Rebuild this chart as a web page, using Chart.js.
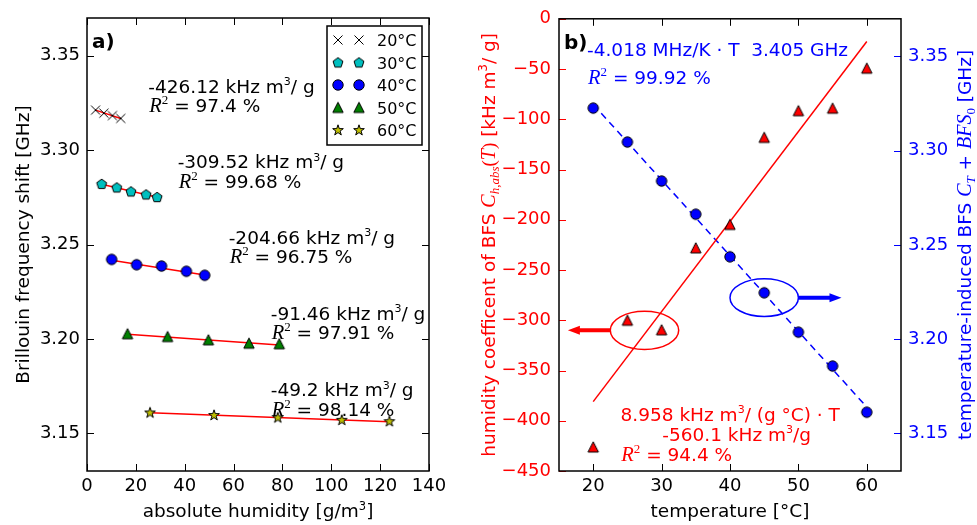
<!DOCTYPE html>
<html><head><meta charset="utf-8">
<script src="https://cdn.jsdelivr.net/npm/chart.js@4.4.1/dist/chart.umd.min.js"></script>
<style>
html,body{margin:0;padding:0;background:#fff;width:977px;height:525px;overflow:hidden}
canvas{position:absolute;top:0}
#c1{left:0;width:470px;height:525px}
#c2{left:470px;width:507px;height:525px}
</style></head><body>
<canvas id="c1" width="470" height="525"></canvas>
<canvas id="c2" width="507" height="525"></canvas>
<script>
// ---------------- data: panel a) ----------------
const legendLabels = ['20°C', '30°C', '40°C', '50°C', '60°C'];
const humid20 = [3.5, 6.9, 10.4, 13.8];
const bfs20   = [3.3212, 3.3196, 3.3183, 3.3168];
const humid30 = [6.0, 12.2, 18.0, 24.2, 28.7];
const bfs30   = [3.2821, 3.2802, 3.2781, 3.2765, 3.2751];
const humid40 = [10.1, 20.3, 30.5, 40.7, 48.2];
const bfs40   = [3.2421, 3.2393, 3.2386, 3.2358, 3.2337];
const humid50 = [16.6, 33.0, 49.7, 66.3, 78.7];
const bfs50   = [3.2027, 3.2012, 3.1995, 3.1977, 3.1974];
const humid60 = [25.8, 52.0, 78.1, 104.3, 123.8];
const bfs60   = [3.1610, 3.1597, 3.1584, 3.1571, 3.1564];
const fitHumid = [[3.5, 13.8], [6.0, 28.7], [10.1, 48.2], [16.6, 78.7], [25.8, 123.8]];
const fitBfs   = [[3.3212, 3.3168], [3.2819, 3.2750], [3.2417, 3.2339], [3.2025, 3.1968], [3.1609, 3.1561]];
const slopeTexts = ['-426.12', '-309.52', '-204.66', '-91.46', '-49.2'];
const r2Texts    = ['97.4', '99.68', '96.75', '97.91', '98.14'];
const slopeTextHumid = [25.1, 37.1, 58.0, 75.2, 75.2];
const slopeTextBfs   = [3.3303, 3.2905, 3.2505, 3.2102, 3.1696];
const humidTicks = [0, 20, 40, 60, 80, 100, 120, 140];
const bfsTicks   = [3.15, 3.20, 3.25, 3.30, 3.35];

// ---------------- data: panel b) ----------------
const temps      = [20, 25, 30, 35, 40, 45, 50, 55, 60];
const humidCoeff = [-426.12, -300, -309.52, -228, -204.66, -118, -91.46, -89, -49.2];
const bfsTemp    = [3.3226, 3.3046, 3.2839, 3.2663, 3.2437, 3.2246, 3.2037, 3.1857, 3.1612];
const coeffFitT  = [20, 60];
const coeffFit   = [-381, -22.6];
const bfsFitT    = [20, 60];
const bfsFit     = [3.3246, 3.1639];
const tempTicks  = [20, 30, 40, 50, 60];
const coeffTicks = [0, -50, -100, -150, -200, -250, -300, -350, -400, -450];
const bfsTicksR  = [3.15, 3.20, 3.25, 3.30, 3.35];

// annotation anchors (data coordinates)
const redEllipse  = {x: 27.5, y: -310, w: 10, h: 38, tipX: 16.3};
const blueEllipse = {x: 45, y: 3.222, w: 10, h: 0.02, tipX: 56.3};
const blueText = {x: 19.1, y1: 3.3501, y2: 3.3356};
const redTextX = [24.0, 30.1, 24.1];
const redTextY = [-400, -420, -440];

// ---------------- helpers ----------------
const DJ = '"DejaVu Sans"';
const TS = 18.5; // title size
const N = (t, s = 18.5) => ({t, f: `${s}px ${DJ}`, dy: 0});
const I = (t, s = 20) => ({t, f: `italic ${s}px "Liberation Serif"`, dy: 0});
const S = (t, s = 19) => ({t, f: `${s}px "Liberation Serif"`, dy: 0});
const SUP = (t, s = 11, dy = -7.5) => ({t, f: `${s}px ${DJ}`, dy});
const ISUB = (t, s = 13, dy = 4) => ({t, f: `italic ${s}px "Liberation Serif"`, dy});
const R2 = (v, s = 18.5) => [I('R', 20.5), {t: '2', f: '13px "Liberation Serif"', dy: -8}, N(' = ' + v + ' %', s)];

function drawRich(ctx, segs, x, y, align, color) {
  let w = 0;
  for (const s of segs) { ctx.font = s.f; w += ctx.measureText(s.t).width; }
  let cx = align === 'center' ? x - w / 2 : (align === 'right' ? x - w : x);
  ctx.textAlign = 'left'; ctx.textBaseline = 'alphabetic'; ctx.fillStyle = color;
  for (const s of segs) { ctx.font = s.f; ctx.fillText(s.t, cx, y + s.dy); cx += ctx.measureText(s.t).width; }
}
function drawRichRot(ctx, segs, cx, cy, color, size) {
  ctx.save(); ctx.translate(cx, cy); ctx.rotate(-Math.PI / 2);
  drawRich(ctx, segs, 0, 0.36 * size, 'center', color);
  ctx.restore();
}

function makeMarker(kind, fill) {
  const c = document.createElement('canvas'); c.width = 16; c.height = 16;
  const g = c.getContext('2d'); g.translate(8, 8);
  g.lineWidth = 1; g.strokeStyle = '#000'; g.fillStyle = fill;
  g.beginPath();
  if (kind === 'cross') {
    const r = 4.5; g.moveTo(-r, -r); g.lineTo(r, r); g.moveTo(-r, r); g.lineTo(r, -r); g.stroke(); return c;
  }
  if (kind === 'circle') { g.arc(0, 0, 5.2, 0, Math.PI * 2); }
  if (kind === 'triangle') { g.moveTo(0, -5.2); g.lineTo(5.2, 5.0); g.lineTo(-5.2, 5.0); }
  if (kind === 'pentagon') {
    for (let i = 0; i < 5; i++) { const a = -Math.PI / 2 + i * 2 * Math.PI / 5; const x = 5.2 * Math.cos(a), y = 5.2 * Math.sin(a) + 0.4; i ? g.lineTo(x, y) : g.moveTo(x, y); }
  }
  if (kind === 'star') {
    for (let i = 0; i < 10; i++) { const a = -Math.PI / 2 + i * Math.PI / 5; const r = i % 2 ? 2.2 : 5.6; const x = r * Math.cos(a), y = r * Math.sin(a) + 0.4; i ? g.lineTo(x, y) : g.moveTo(x, y); }
  }
  g.closePath(); g.fill(); g.stroke();
  return c;
}
const mk = {
  cross: makeMarker('cross', '#000'),
  pent: makeMarker('pentagon', '#00BFBF'),
  circ: makeMarker('circle', '#0000FF'),
  triG: makeMarker('triangle', '#008000'),
  star: makeMarker('star', '#BFBF00'),
  triR: makeMarker('triangle', '#FF0000')
};

const pts = (xs, ys) => xs.map((x, i) => ({x, y: ys[i]}));
const tickFont = {family: 'DejaVu Sans', size: 18};

function drawFrameTicks(chart, specs) {
  const ctx = chart.ctx, a = chart.chartArea, L = 7;
  ctx.save(); ctx.lineWidth = 1;
  for (const sp of specs) {
    const sc = chart.scales[sp.scale];
    ctx.strokeStyle = sp.color;
    for (const v of sp.values) {
      const p = Math.round(sc.getPixelForValue(v)) + 0.5;
      ctx.beginPath();
      for (const side of sp.sides) {
        if (side === 'bottom') { ctx.moveTo(p, a.bottom); ctx.lineTo(p, a.bottom - L); }
        if (side === 'top') { ctx.moveTo(p, a.top); ctx.lineTo(p, a.top + L); }
        if (side === 'left') { ctx.moveTo(a.left, p); ctx.lineTo(a.left + L, p); }
        if (side === 'right') { ctx.moveTo(a.right, p); ctx.lineTo(a.right - L, p); }
      }
      ctx.stroke();
    }
  }
  ctx.strokeStyle = '#000'; ctx.lineWidth = 1.5;
  ctx.strokeRect(a.left, a.top, a.right - a.left, a.bottom - a.top);
  ctx.restore();
}

// ---------------- chart a) ----------------
const setsA = [
  {label: legendLabels[0], data: pts(humid20, bfs20), pointStyle: mk.cross},
  {label: legendLabels[1], data: pts(humid30, bfs30), pointStyle: mk.pent},
  {label: legendLabels[2], data: pts(humid40, bfs40), pointStyle: mk.circ},
  {label: legendLabels[3], data: pts(humid50, bfs50), pointStyle: mk.triG},
  {label: legendLabels[4], data: pts(humid60, bfs60), pointStyle: mk.star}
].map(d => Object.assign(d, {showLine: false, order: 0, pointRadius: 5}));
const fitsA = fitHumid.map((h, i) => ({
  label: 'fit ' + legendLabels[i], data: pts(h, fitBfs[i]), showLine: true, pointRadius: 0,
  borderColor: '#FF0000', borderWidth: 1.5, order: 1
}));

const pluginA = {
  id: 'panelA',
  beforeDatasetsDraw(chart) {
    drawFrameTicks(chart, [
      {scale: 'x', values: humidTicks, sides: ['bottom', 'top'], color: '#000'},
      {scale: 'y', values: bfsTicks, sides: ['left', 'right'], color: '#000'}
    ]);
  },
  afterDatasetsDraw(chart) {
    const ctx = chart.ctx, a = chart.chartArea, xs = chart.scales.x, ys = chart.scales.y;
    ctx.save();
    for (let i = 0; i < slopeTexts.length; i++) {
      const px = xs.getPixelForValue(slopeTextHumid[i]), py = ys.getPixelForValue(slopeTextBfs[i]);
      drawRich(ctx, [N(slopeTexts[i] + ' kHz m'), SUP('3'), N('/ g')], px, py, 'left', '#000');
      drawRich(ctx, R2(r2Texts[i]), px + 1, py + 19.5, 'left', '#000');
    }
    // panel label
    drawRich(ctx, [{t: 'a)', f: `bold 20px ${DJ}`, dy: 0}], a.left + 5, a.top + 30, 'left', '#000');
    // legend
    const lx = a.right - 102, ly = a.top + 8, lw = 95, lh = 119;
    ctx.fillStyle = '#fff'; ctx.fillRect(lx, ly, lw, lh);
    ctx.strokeStyle = '#000'; ctx.lineWidth = 1.5; ctx.strokeRect(lx, ly, lw, lh);
    chart.data.datasets.filter(d => !d.showLine).forEach((d, i) => {
      const y = ly + 14 + i * 22.5;
      for (const mx of [lx + 11, lx + 32]) ctx.drawImage(d.pointStyle, mx - 8, y - 8);
      drawRich(ctx, [N(d.label, 16)], lx + 50, y + 6, 'left', '#000');
    });
    // axis titles
    drawRichRot(ctx, [N('Brillouin frequency shift [GHz]', TS)], 22, (a.top + a.bottom) / 2, '#000', TS);
    drawRich(ctx, [N('absolute humidity [g/m', TS), SUP('3', 11.5, -7.5), N(']', TS)], (a.left + a.right) / 2, 517, 'center', '#000');
    ctx.restore();
  }
};

new Chart(document.getElementById('c1'), {
  type: 'scatter',
  data: {datasets: [...setsA, ...fitsA]},
  options: {
    responsive: false, animation: false, devicePixelRatio: 1,
    layout: {padding: {left: 0, right: 41, top: 18, bottom: 0}},
    plugins: {legend: {display: false}, tooltip: {enabled: false}},
    scales: {
      x: {
        type: 'linear', position: 'bottom', min: 0, max: 140,
        afterBuildTicks: s => { s.ticks = humidTicks.map(v => ({value: v})); },
        afterFit: s => { s.height = 54; },
        grid: {display: false, drawTicks: false}, border: {display: false},
        ticks: {font: tickFont, color: '#000', padding: 5, maxRotation: 0, autoSkip: false, callback: v => String(v)}
      },
      y: {
        type: 'linear', position: 'left', min: 3.13, max: 3.37,
        afterBuildTicks: s => { s.ticks = bfsTicks.map(v => ({value: v})); },
        afterFit: s => { s.width = 87; },
        grid: {display: false, drawTicks: false}, border: {display: false},
        ticks: {font: tickFont, color: '#000', padding: 7, autoSkip: false, callback: v => Number(v).toFixed(2)}
      }
    }
  },
  plugins: [pluginA]
});

// ---------------- chart b) ----------------
const pluginB = {
  id: 'panelB',
  beforeDatasetsDraw(chart) {
    drawFrameTicks(chart, [
      {scale: 'x', values: tempTicks, sides: ['bottom', 'top'], color: '#000'},
      {scale: 'yL', values: coeffTicks, sides: ['left'], color: '#FF0000'},
      {scale: 'yR', values: bfsTicksR, sides: ['right'], color: '#0000FF'}
    ]);
  },
  afterDatasetsDraw(chart) {
    const ctx = chart.ctx, a = chart.chartArea, xs = chart.scales.x, yl = chart.scales.yL, yr = chart.scales.yR;
    ctx.save();
    // ellipses + arrows
    const drawEll = (e, ys, color, dir) => {
      const cx = xs.getPixelForValue(e.x), cy = ys.getPixelForValue(e.y);
      const rx = Math.abs(xs.getPixelForValue(e.x + e.w / 2) - cx);
      const ry = Math.abs(ys.getPixelForValue(e.y + e.h / 2) - cy);
      ctx.strokeStyle = color; ctx.fillStyle = color; ctx.lineWidth = 1.5;
      ctx.beginPath(); ctx.ellipse(cx, cy, rx, ry, 0, 0, Math.PI * 2); ctx.stroke();
      const tail = cx + dir * rx, tip = xs.getPixelForValue(e.tipX);
      ctx.lineWidth = 4;
      ctx.beginPath(); ctx.moveTo(tail, cy); ctx.lineTo(tip - dir * 10, cy); ctx.stroke();
      ctx.beginPath(); ctx.moveTo(tip, cy); ctx.lineTo(tip - dir * 12, cy - 4.5); ctx.lineTo(tip - dir * 12, cy + 4.5); ctx.closePath(); ctx.fill();
    };
    drawEll(redEllipse, yl, '#FF0000', -1);
    drawEll(blueEllipse, yr, '#0000FF', 1);
    // texts
    const bx = xs.getPixelForValue(blueText.x);
    drawRich(ctx, [N('-4.018 MHz/K · T  3.405 GHz')], bx, yr.getPixelForValue(blueText.y1), 'left', '#0000FF');
    drawRich(ctx, R2('99.92'), bx + 1, yr.getPixelForValue(blueText.y2), 'left', '#0000FF');
    drawRich(ctx, [N('8.958 kHz m'), SUP('3'), N('/ (g °C) · T')], xs.getPixelForValue(redTextX[0]), yl.getPixelForValue(redTextY[0]), 'left', '#FF0000');
    drawRich(ctx, [N('-560.1 kHz m'), SUP('3'), N('/g')], xs.getPixelForValue(redTextX[1]), yl.getPixelForValue(redTextY[1]), 'left', '#FF0000');
    drawRich(ctx, R2('94.4'), xs.getPixelForValue(redTextX[2]), yl.getPixelForValue(redTextY[2]), 'left', '#FF0000');
    drawRich(ctx, [{t: 'b)', f: `bold 20px ${DJ}`, dy: 0}], a.left + 5, a.top + 30, 'left', '#000');
    // axis titles
    const midY = (a.top + a.bottom) / 2;
    drawRichRot(ctx, [N('humidity coefficent of BFS ', TS), I('C', 20), ISUB('h,abs', 13, 4), S('(', 19), I('T', 20), S(')', 19), N(' [kHz m', TS), SUP('3', 11.5, -7.5), N('/ g]', TS)], 18, midY, '#FF0000', TS);
    drawRichRot(ctx, [N('temperature-induced BFS ', TS), I('C', 20), ISUB('T', 13, 4), N(' + ', TS), I('BFS', 20), {t: '0', f: '13px "Liberation Serif"', dy: 4}, N(' [GHz]', TS)], 494, midY, '#0000FF', TS);
    drawRich(ctx, [N('temperature [°C]', TS)], (a.left + a.right) / 2, 517, 'center', '#000');
    ctx.restore();
  }
};

new Chart(document.getElementById('c2'), {
  type: 'scatter',
  data: {datasets: [
    {label: 'temperature-induced BFS', data: pts(temps, bfsTemp), yAxisID: 'yR', pointStyle: mk.circ, pointRadius: 5, showLine: false, order: 0},
    {label: 'humidity coefficient', data: pts(temps, humidCoeff), yAxisID: 'yL', pointStyle: mk.triR, pointRadius: 5, showLine: false, order: 0},
    {label: 'humidity coefficient fit', data: pts(coeffFitT, coeffFit), yAxisID: 'yL', showLine: true, pointRadius: 0, borderColor: '#FF0000', borderWidth: 1.5, order: 1},
    {label: 'BFS fit', data: pts(bfsFitT, bfsFit), yAxisID: 'yR', showLine: true, pointRadius: 0, borderColor: '#0000FF', borderWidth: 1.5, borderDash: [7, 5], order: 1}
  ]},
  options: {
    responsive: false, animation: false, devicePixelRatio: 1,
    layout: {padding: {left: 0, right: 0, top: 18, bottom: 0}},
    plugins: {legend: {display: false}, tooltip: {enabled: false}},
    scales: {
      x: {
        type: 'linear', position: 'bottom', min: 15, max: 65,
        afterBuildTicks: s => { s.ticks = tempTicks.map(v => ({value: v})); },
        afterFit: s => { s.height = 54; },
        grid: {display: false, drawTicks: false}, border: {display: false},
        ticks: {font: tickFont, color: '#000', padding: 5, maxRotation: 0, autoSkip: false, callback: v => String(v)}
      },
      yL: {
        type: 'linear', position: 'left', min: -450, max: 0,
        afterBuildTicks: s => { s.ticks = coeffTicks.map(v => ({value: v})); },
        afterFit: s => { s.width = 89; },
        grid: {display: false, drawTicks: false}, border: {display: false},
        ticks: {font: tickFont, color: '#FF0000', padding: 8, autoSkip: false, callback: v => (v < 0 ? '\u2212' + Math.abs(v) : String(v))}
      },
      yR: {
        type: 'linear', position: 'right', min: 3.13, max: 3.37,
        afterBuildTicks: s => { s.ticks = bfsTicksR.map(v => ({value: v})); },
        afterFit: s => { s.width = 76; },
        grid: {display: false, drawTicks: false}, border: {display: false},
        ticks: {font: tickFont, color: '#0000FF', padding: 7, autoSkip: false, callback: v => Number(v).toFixed(2)}
      }
    }
  },
  plugins: [pluginB]
});
</script>
</body></html>
